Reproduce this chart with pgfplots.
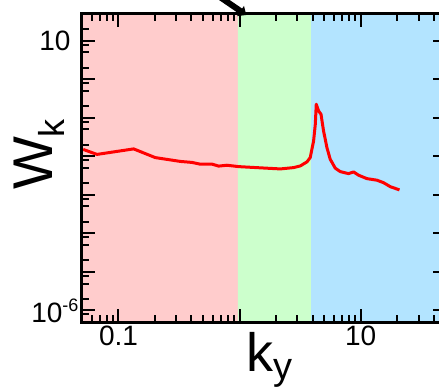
\documentclass[border=0pt]{standalone}
\usepackage{pgfplots}
\pgfplotsset{compat=1.18}
\usepackage{fontspec}
\setmainfont{Liberation Sans}
\usetikzlibrary{arrows.meta}
\definecolor{pinkc}{RGB}{255,204,204}
\definecolor{greenc}{RGB}{204,255,204}
\definecolor{bluec}{RGB}{179,228,255}
\begin{document}
\begin{tikzpicture}
\begin{axis}[
  at={(0,0)}, anchor=south west,
  scale only axis, width=363.4pt, height=308pt,
  xmode=log, ymode=log,
  xmin=0.05, xmax=50, ymin=5e-7, ymax=50,
  axis on top=true,
  axis line style={line width=3pt},
  every tick/.style={black, line width=2pt},
  major tick length=12.7pt, minor tick length=6.7pt,
  tick align=inside,
  xtick={0.1,1,10}, xticklabels={0.1,,10},
  minor xtick={0.06,0.07,0.08,0.09,0.2,0.3,0.4,0.5,0.6,0.7,0.8,0.9,2,3,4,5,6,7,8,9,20,30,40},
  ytick={1e-6,1e-5,1e-4,1e-3,1e-2,1e-1,1,10},
  yticklabels={10\raisebox{11pt}{\fontsize{18}{18}\selectfont -6},,,,,,,\raisebox{-4pt}{10}\hspace*{8pt}},
  minor ytick={8e-7,2e-6,5e-6,8e-6,2e-5,5e-5,8e-5,2e-4,5e-4,8e-4,2e-3,5e-3,8e-3,2e-2,5e-2,8e-2,0.2,0.5,0.8,2,5,8,20},
  ticklabel style={font=\fontsize{28}{28}\selectfont},
  xlabel={k\raisebox{-8pt}{\fontsize{38}{38}\selectfont y}},
  xlabel style={at={(axis description cs:0.517,0)}, anchor=base, yshift=-49.7pt, font=\fontsize{54}{54}\selectfont},
  ylabel={W\raisebox{-12pt}{\fontsize{36}{36}\selectfont k}},
  ylabel style={at={(axis description cs:-0.0798,0.544)}, anchor=base, font=\fontsize{56}{56}\selectfont},
]
\addplot[draw=none, fill=pinkc] coordinates {(0.01,1e-8) (0.97,1e-8) (0.97,1000) (0.01,1000) (0.01,1e-8)};
\addplot[draw=none, fill=greenc] coordinates {(0.97,1e-8) (3.9,1e-8) (3.9,1000) (0.97,1000) (0.97,1e-8)};
\addplot[draw=none, fill=bluec] coordinates {(3.9,1e-8) (100,1e-8) (100,1000) (3.9,1000) (3.9,1e-8)};
\addplot[red, line width=3pt, line join=round] coordinates {
(0.0511,0.0152) (0.0665,0.01127) (0.1334,0.01567) (0.2014,0.00931)
(0.3243,0.00741) (0.4046,0.00698) (0.4742,0.00627) (0.5916,0.00631)
(0.6714,0.00560) (0.787,0.00590) (0.982,0.00543) (1.683,0.00494)
(2.168,0.00473) (2.793,0.00512) (3.170,0.00566) (3.597,0.00719)
(3.828,0.00931) (4.083,0.0253) (4.217,0.0686) (4.295,0.227)
(4.487,0.152) (4.699,0.1247) (4.932,0.0459) (5.260,0.01694)
(5.598,0.00845) (6.166,0.00494) (6.776,0.00403) (7.925,0.00357)
(8.730,0.00395) (9.594,0.00325) (11.246,0.00265) (13.61,0.00241)
(15.42,0.00208) (17.50,0.00164) (20.89,0.00135)
};
\coordinate (tip) at (axis cs:1.135,50);
\end{axis}
\draw[line width=6pt, -{Triangle[width=12pt,length=7pt]}] ([shift={(-60pt,40pt)}]tip) -- ([yshift=-1pt]tip);
\pgfresetboundingbox
\useasboundingbox (-82pt,-68pt) rectangle (357pt,322pt);
\end{tikzpicture}
\end{document}
